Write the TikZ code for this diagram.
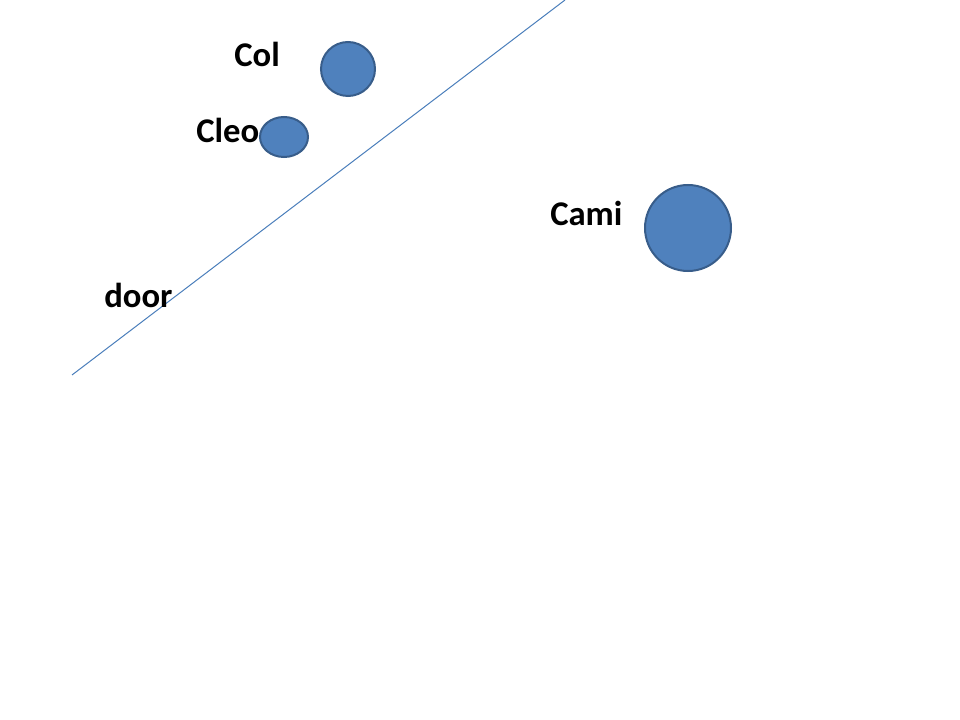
\documentclass[tikz,border=0pt]{standalone}
\usepackage{fontspec}
\setmainfont{Carlito}
\usetikzlibrary{shapes.geometric}
\definecolor{dotfill}{HTML}{4F81BD}
\definecolor{dotline}{HTML}{385D8A}
\definecolor{doorline}{HTML}{4A7EBB}
\tikzset{
  person/.style={draw=dotline,fill=dotfill,line width=1.5pt,ellipse,inner sep=0pt},
  label text/.style={anchor=base west,inner sep=0pt,font=\fontsize{26}{30}\selectfont\bfseries}
}
\begin{document}
\begin{tikzpicture}[x=0.75pt,y=-0.75pt]
    \useasboundingbox (0,0) rectangle (960,720);
    \coordinate (doorA) at (72,375);
    \coordinate (doorB) at (565,0);
    \draw [doorline,line width=0.75pt] (doorA) -- (doorB);
    \node [label text] (colname) at (234,67) {Col};
    \node [label text] (cleoname) at (196,143) {Cleo};
    \node [label text] (caminame) at (550,226) {Cami};
    \node [label text] (doorname) at (104,307) {door};
    \node [person,minimum width=40.5pt,minimum height=40.5pt] (col) at (348,69) {};
    \node [person,minimum width=36pt,minimum height=30pt] (cleo) at (284,137) {};
    \node [person,minimum width=64.5pt,minimum height=64.5pt] (cami) at (688,228) {};
\end{tikzpicture}
\end{document}
